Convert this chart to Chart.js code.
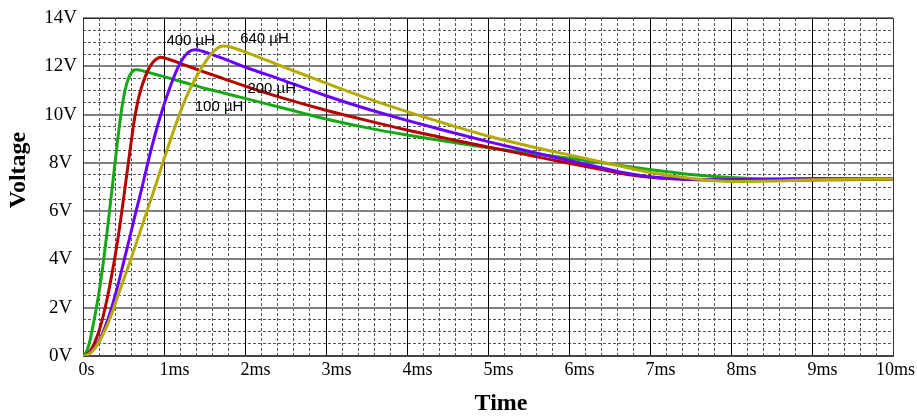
<!DOCTYPE html>
<html>
<head>
<meta charset="utf-8">
<script src="https://cdn.jsdelivr.net/npm/chart.js@4/dist/chart.umd.min.js"></script>
<style>
html,body{margin:0;padding:0;background:#fff;}
canvas{display:block;}
</style>
</head>
<body>
<canvas id="c" width="917" height="417"></canvas>
<script>
// ---- data (time in ms, voltage in V) ----
const t100 = [0,0.03,0.06,0.09,0.12,0.15,0.18,0.21,0.24,0.27,0.30,0.33,0.36,0.39,0.42,0.45,0.48,0.51,0.54,0.57,0.60,0.63,0.66,0.70,0.8,0.9,1.0,1.25,1.5,1.75,2.0,2.47,3.0,3.5,4.0,4.5,5.0,5.5,6.0,6.4,6.7,7.0,7.5,8.0,8.5,9.0,10.0];
const v100 = [0,0.1,0.32,0.7,1.2,1.72,2.28,2.9,3.6,4.38,5.22,6.08,6.96,7.85,8.72,9.55,10.28,10.86,11.28,11.57,11.75,11.84,11.86,11.84,11.75,11.66,11.57,11.33,11.09,10.88,10.67,10.27,9.82,9.46,9.15,8.88,8.63,8.41,8.19,8.01,7.86,7.72,7.52,7.39,7.33,7.32,7.32];

const t200 = [0,0.05,0.1,0.15,0.2,0.25,0.3,0.35,0.4,0.44,0.48,0.52,0.56,0.6,0.64,0.68,0.72,0.76,0.8,0.84,0.88,0.92,0.96,1.0,1.05,1.25,1.5,1.75,2.0,2.47,3.0,3.5,4.0,4.5,5.0,5.5,6.0,6.4,6.7,7.0,7.5,8.0,9.0,10.0];
const v200 = [0,0.07,0.27,0.6,1.06,1.66,2.4,3.26,4.2,5.05,6.0,7.0,8.0,9.0,9.9,10.6,11.1,11.5,11.82,12.06,12.23,12.33,12.37,12.35,12.3,12.06,11.76,11.47,11.18,10.68,10.18,9.76,9.36,9.0,8.66,8.32,7.98,7.72,7.53,7.4,7.31,7.29,7.29,7.32];

const t400 = [0,0.06,0.12,0.18,0.24,0.30,0.36,0.43,0.51,0.58,0.655,0.73,0.80,0.87,0.93,0.99,1.05,1.11,1.17,1.22,1.27,1.31,1.35,1.39,1.44,1.5,1.75,2.0,2.43,3.0,3.5,4.0,4.5,5.0,5.5,6.0,6.4,6.7,7.0,7.5,8.0,9.0,10.0];
const v400 = [0,0.06,0.24,0.53,0.93,1.45,2.07,2.92,4.0,4.95,6.0,7.0,8.0,8.92,9.65,10.3,10.9,11.45,11.93,12.25,12.48,12.6,12.67,12.69,12.66,12.59,12.3,11.97,11.47,10.78,10.24,9.76,9.31,8.88,8.48,8.1,7.8,7.58,7.42,7.31,7.3,7.35,7.33];

const t640 = [0,0.06,0.12,0.18,0.24,0.30,0.36,0.42,0.49,0.59,0.69,0.79,0.89,0.99,1.09,1.19,1.25,1.31,1.37,1.43,1.48,1.53,1.58,1.63,1.68,1.73,1.78,1.85,2.0,2.47,3.0,3.5,4.0,4.5,5.0,5.5,6.0,6.4,6.7,7.0,7.5,8.0,8.5,9.0,10.0];
const v640 = [0,0.06,0.22,0.48,0.85,1.28,1.8,2.38,3.05,4.0,5.0,6.0,7.0,8.05,9.05,10.0,10.52,10.98,11.38,11.74,12.02,12.28,12.5,12.67,12.79,12.84,12.83,12.77,12.6,11.98,11.3,10.68,10.12,9.6,9.11,8.7,8.33,8.04,7.82,7.6,7.36,7.23,7.25,7.3,7.32];

const seriesNames = ['640 µH','400 µH','200 µH','100 µH'];
const labelT = [1.94, 1.03, 2.03, 1.38];
const labelV = [13.15, 13.05, 11.08, 10.31];

const xTickValues = [0,1,2,3,4,5,6,7,8,9,10];
const xTickNumbers = ['0','1','2','3','4','5','6','7','8','9','10'];
const xTickUnits = ['s','ms','ms','ms','ms','ms','ms','ms','ms','ms','ms'];
const yTickValues = [0,2,4,6,8,10,12,14];
const yTickLabels = ['0V','2V','4V','6V','8V','10V','12V','14V'];

const xTitle = 'Time';
const yTitle = 'Voltage';

const colors = ['#b3ab00','#6a00ff','#b40000','#14a814'];

function pts(ts, vs){ return ts.map((t,i)=>({x:t,y:vs[i]})); }
const seriesData = [pts(t640,v640), pts(t400,v400), pts(t200,v200), pts(t100,v100)];

const decor = {
  id: 'decor',
  beforeDatasetsDraw(chart){
    const {ctx, chartArea:a, scales:{x, y}} = chart;
    ctx.save();
    ctx.strokeStyle = '#808080';
    ctx.lineWidth = 2;
    yTickValues.forEach(v => {
      const py = Math.round(y.getPixelForValue(v));
      ctx.beginPath(); ctx.moveTo(a.left, py); ctx.lineTo(a.right, py); ctx.stroke();
    });
    ctx.strokeStyle = '#000';
    ctx.lineWidth = 1;
    xTickValues.forEach(v => {
      const px = Math.round(x.getPixelForValue(v)) + 0.5;
      ctx.beginPath(); ctx.moveTo(px, a.top); ctx.lineTo(px, a.bottom); ctx.stroke();
    });
    ctx.strokeStyle = '#333';
    ctx.lineWidth = 1;
    const L = Math.round(a.left)+0.5, R = Math.round(a.right)+0.5, T = Math.round(a.top)+0.5;
    ctx.beginPath(); ctx.moveTo(L, a.bottom); ctx.lineTo(L, T); ctx.lineTo(R, T); ctx.lineTo(R, a.bottom); ctx.stroke();
    ctx.strokeStyle = '#444';
    ctx.lineWidth = 2;
    const B = Math.round(y.getPixelForValue(0));
    ctx.beginPath(); ctx.moveTo(a.left, B); ctx.lineTo(a.right+1, B); ctx.stroke();
    ctx.restore();
  },
  afterDraw(chart){
    const {ctx, scales:{x, y}} = chart;
    ctx.save();
    ctx.fillStyle = '#000';
    ctx.font = '18px "Liberation Serif", "Times New Roman", serif';
    ctx.textBaseline = 'middle';
    ctx.textAlign = 'left';
    xTickValues.forEach((v,i) => {
      const px = x.getPixelForValue(v);
      const nw = ctx.measureText(xTickNumbers[i]).width;
      const full = xTickNumbers[i] + xTickUnits[i];
      const fw = ctx.measureText(full).width;
      let left = px - nw/2;
      if (left + fw > chart.width - 2) left = chart.width - 2 - fw;
      ctx.fillText(full, left, 370);
    });
    ctx.font = '15px "Liberation Sans", Arial, sans-serif';
    seriesNames.forEach((n,i) => {
      ctx.fillText(n, x.getPixelForValue(labelT[i]), y.getPixelForValue(labelV[i]));
    });
    ctx.font = 'bold 24px "Liberation Serif", "Times New Roman", serif';
    ctx.textAlign = 'center';
    ctx.fillText(xTitle, 501, 404);
    ctx.translate(19, 170);
    ctx.rotate(-Math.PI/2);
    ctx.fillText(yTitle, 0, 0);
    ctx.restore();
  }
};

new Chart(document.getElementById('c'), {
  type: 'line',
  data: {
    datasets: seriesData.map((d,i) => ({
      label: seriesNames[i],
      data: d,
      borderColor: colors[i],
      backgroundColor: colors[i],
      borderWidth: 3,
      pointRadius: 0,
      cubicInterpolationMode: 'monotone',
      fill: false
    }))
  },
  options: {
    responsive: false,
    animation: false,
    events: [],
    layout: { padding: { left: 0, right: 24, top: 18, bottom: 0 } },
    plugins: { legend: { display: false }, tooltip: { enabled: false } },
    scales: {
      x: {
        type: 'linear',
        min: 0, max: 10,
        afterFit(s){ s.height = 61; },
        border: { display: false, dash: [3,2] },
        grid: { color: '#555', lineWidth: 1, drawTicks: false },
        ticks: { stepSize: 0.2, display: false, autoSkip: false }
      },
      y: {
        type: 'linear',
        min: 0, max: 14,
        afterFit(s){ s.width = 83; },
        border: { display: false, dash: [3,2] },
        grid: { color: '#555', lineWidth: 1, drawTicks: false },
        ticks: {
          stepSize: 0.5,
          autoSkip: false,
          crossAlign: 'center',
          padding: 6,
          color: '#000',
          font: { family: '"Liberation Serif", "Times New Roman", serif', size: 19 },
          callback(v){ const k = yTickValues.findIndex(a => Math.abs(a - v) < 1e-6); return k >= 0 ? yTickLabels[k] : ''; }
        }
      }
    }
  },
  plugins: [decor]
});
</script>
</body>
</html>
